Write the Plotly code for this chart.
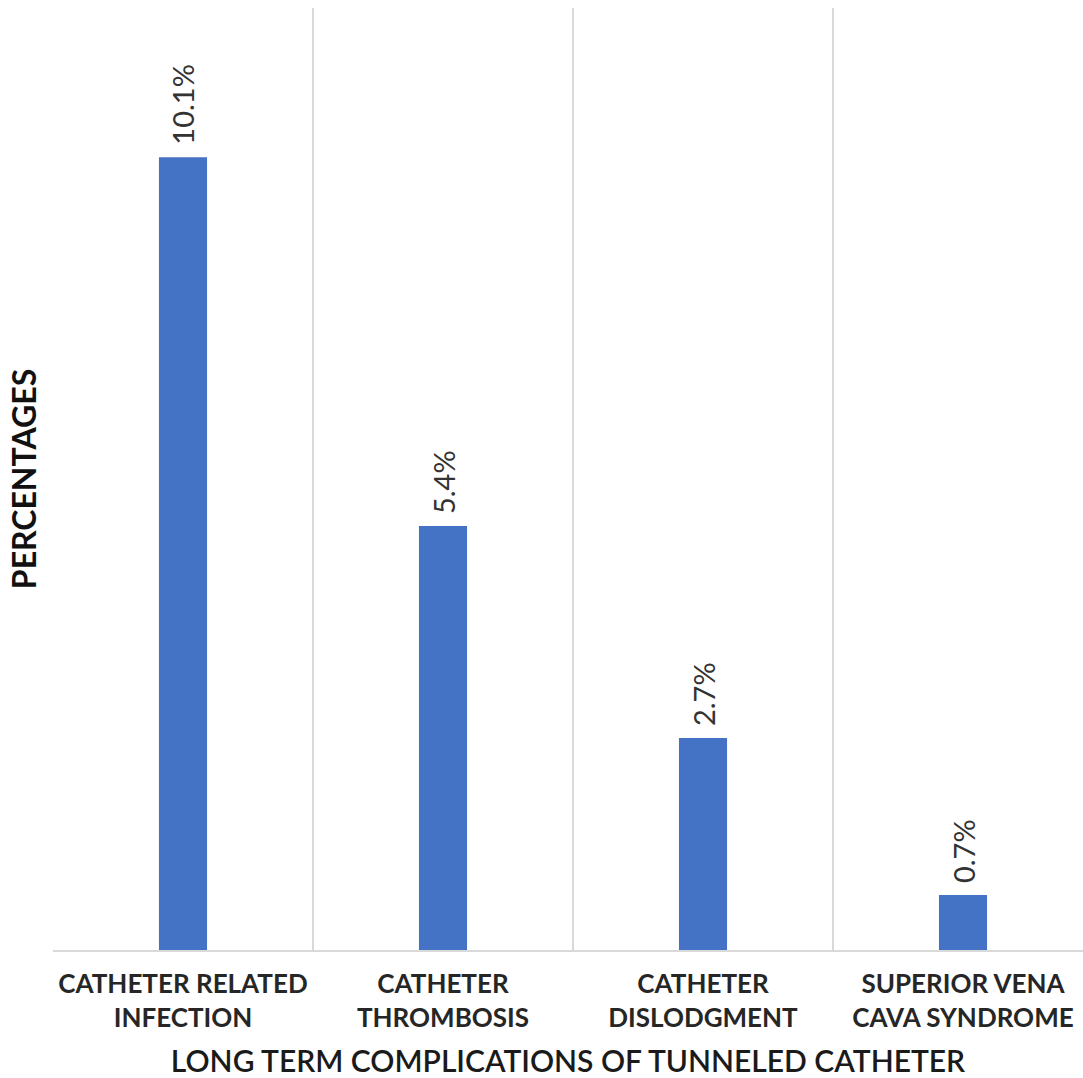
import plotly.graph_objects as go

categories = ["CATHETER RELATED<br>INFECTION", "CATHETER<br>THROMBOSIS",
              "CATHETER<br>DISLODGMENT", "SUPERIOR VENA<br>CAVA SYNDROME"]
values = [10.1, 5.4, 2.7, 0.7]
labels = ["10.1%", "5.4%", "2.7%", "0.7%"]

FONT = "Lato"

fig = go.Figure()
fig.add_trace(go.Bar(x=categories, y=values, marker_color="#4472C4",
                     marker_line_width=0, showlegend=False))

for c, v, t in zip(categories, values, labels):
    fig.add_annotation(x=c, y=v, text=t, textangle=-90, showarrow=False,
                       xanchor="center", yanchor="bottom", yshift=10,
                       font=dict(family=FONT, size=29, color="#333333"))

fig.update_layout(
    width=1083, height=1078,
    margin=dict(l=53, r=0, t=8, b=128),
    plot_bgcolor="white", paper_bgcolor="white",
    bargap=0.815,
    font=dict(family=FONT),
    xaxis=dict(
        type="category", range=[-0.5, 3.4615],
        tickson="boundaries", showgrid=True, gridcolor="#d9d9d9", gridwidth=2,
        ticks="", showline=True, linecolor="#d9d9d9", linewidth=2,
        ticklabelstandoff=10,
        tickfont=dict(family=FONT, size=26, color="#262626", weight="bold"),
        title=dict(text="LONG TERM COMPLICATIONS OF TUNNELED CATHETER",
                   font=dict(family=FONT, size=30, color="#1a1a1a", weight=600),
                   standoff=20),
    ),
    yaxis=dict(
        range=[0, 12], showgrid=False, showticklabels=False, zeroline=False,
        ticks="",
        title=dict(text="PERCENTAGES",
                   font=dict(family=FONT, size=32, color="#111111", weight="bold"),
                   standoff=5),
    ),
)

fig.write_html("out.html")
